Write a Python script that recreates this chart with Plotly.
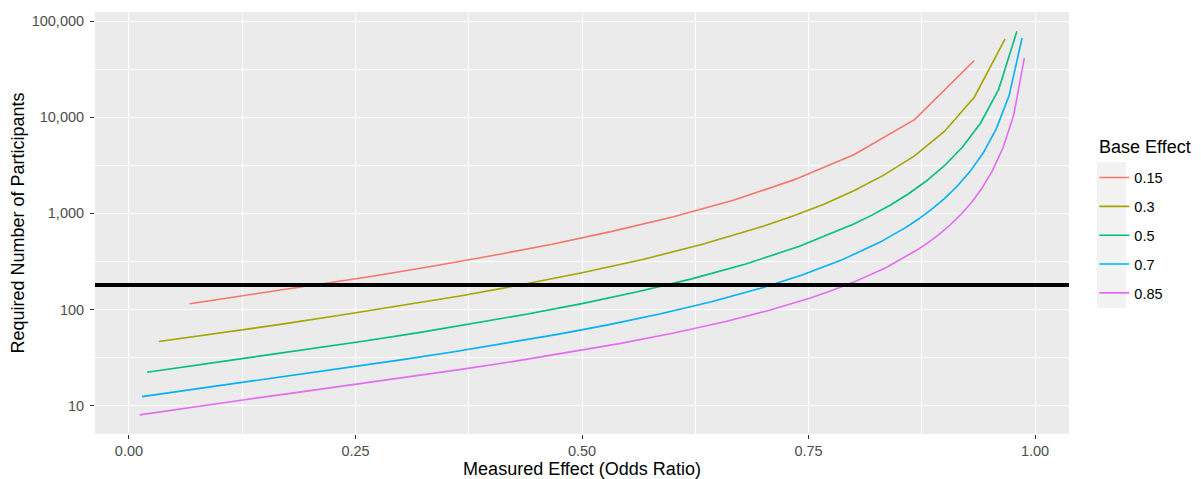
import plotly.graph_objects as go

# ---- data ----
BASE_EFFECTS = ["0.15", "0.3", "0.5", "0.7", "0.85"]
COLORS = ["#F8766D", "#A3A500", "#00BF7D", "#00B0F6", "#E76BF3"]

x_015 = [0.067, 0.133, 0.200, 0.267, 0.333, 0.400, 0.467, 0.533, 0.600, 0.667,
         0.733, 0.800, 0.867, 0.933]
y_015 = [115, 142, 176, 221, 280, 362, 478, 650, 919, 1371, 2217, 4071, 9447, 38921]

x_030 = [0.033, 0.100, 0.167, 0.233, 0.300, 0.367, 0.433, 0.500, 0.567, 0.633,
         0.700, 0.733, 0.767, 0.800, 0.833, 0.867, 0.900, 0.933, 0.967]
y_030 = [46.5, 56.9, 70.1, 87.1, 109.4, 139.4, 181.0, 240.9, 331.6, 477.6,
         734.0, 941.5, 1245.6, 1716.6, 2501.5, 3953.5, 7106, 16159, 65293]

x_050 = [0.02, 0.08, 0.14, 0.20, 0.26, 0.32, 0.38, 0.44, 0.50, 0.56, 0.62, 0.68,
         0.74, 0.80, 0.82, 0.84, 0.86, 0.88, 0.90, 0.92, 0.94, 0.96, 0.98]
y_050 = [22.3, 26.8, 32.1, 38.8, 47.1, 57.6, 71.4, 89.9, 115.3, 151.9, 207.2, 296.4,
         454.2, 774.7, 958.8, 1216.2, 1591.6, 2170.1, 3129.4, 4895.4, 8710.9, 19612, 78479]

x_070 = [0.0143, 0.0714, 0.1286, 0.1857, 0.2429, 0.3000, 0.3571, 0.4143, 0.4714,
         0.5286, 0.5857, 0.6429, 0.7000, 0.7429, 0.7857, 0.8286, 0.8571, 0.8714,
         0.8857, 0.9000, 0.9143, 0.9286, 0.9429, 0.9571, 0.9714, 0.9857]
y_070 = [12.44, 14.8, 17.6, 20.9, 25.0, 30.0, 36.2, 44.3, 54.9, 69.3, 89.8, 120.4,
         169.2, 228.2, 324.7, 500.0, 711.9, 873.5, 1098.5, 1425, 1925.9, 2752.6,
         4267.5, 7524.9, 16786, 66549]

x_085 = [0.0118, 0.0706, 0.1294, 0.1882, 0.2471, 0.3059, 0.3647, 0.4235, 0.4824,
         0.5412, 0.6000, 0.6588, 0.7059, 0.7529, 0.7765, 0.8000, 0.8353, 0.8706,
         0.8824, 0.8941, 0.9059, 0.9176, 0.9294, 0.9412, 0.9529, 0.9647, 0.9765, 0.9882]
y_085 = [8.04, 9.72, 11.63, 13.86, 16.52, 19.74, 23.72, 28.77, 35.35, 44.21, 56.68,
         75.24, 97.76, 132.9, 158.5, 192.9, 272.5, 420.5, 500.0, 606.1, 752.6, 963.7,
         1284.9, 1810.8, 2766.3, 4803.8, 10547, 41119]

THRESHOLD = 180

X_TICKS = [0.0, 0.25, 0.5, 0.75, 1.0]
X_TICK_LABELS = ["0.00", "0.25", "0.50", "0.75", "1.00"]
X_MINOR = [0.125, 0.375, 0.625, 0.875]
Y_TICKS = [10, 100, 1000, 10000, 100000]
Y_TICK_LABELS = ["10", "100", "1,000", "10,000", "100,000"]
Y_MINOR = [31.62, 316.2, 3162, 31623]

series_x = [x_015, x_030, x_050, x_070, x_085]
series_y = [y_015, y_030, y_050, y_070, y_085]

FONT = "Liberation Sans, Arial, sans-serif"

fig = go.Figure()
for name, col, xs, ys in zip(BASE_EFFECTS, COLORS, series_x, series_y):
    fig.add_trace(go.Scatter(x=xs, y=ys, mode="lines", name=name, legendgroup=name,
                             line=dict(color=col, width=1.6)))

fig.add_hline(y=THRESHOLD, line=dict(color="black", width=4), layer="above")

# grey key background for legend (ggplot style)
fig.add_shape(type="rect", xref="paper", yref="paper",
              x0=1.0287, x1=1.0585, y0=0.2986, y1=0.6445,
              fillcolor="#F2F2F2", line=dict(width=0), layer="below")

# legend title (ggplot style, placed as text)
fig.add_annotation(text="Base Effect", xref="paper", yref="paper",
                   x=1.0287, y=0.680, xanchor="left", yanchor="middle", showarrow=False,
                   font=dict(family=FONT, size=18, color="black"))

axis_common = dict(
    showline=False, zeroline=False,
    gridcolor="white", gridwidth=1.4,
    ticks="outside", ticklen=4, tickwidth=1.1, tickcolor="#333333",
    tickfont=dict(family=FONT, size=14.5, color="#4D4D4D"),
)

fig.update_xaxes(
    range=[-0.0375, 1.0375], tickmode="array", tickvals=X_TICKS, ticktext=X_TICK_LABELS,
    minor=dict(tickmode="array", tickvals=X_MINOR, showgrid=True, gridcolor="white",
               gridwidth=0.7, ticks=""),
    title=dict(text="Measured Effect (Odds Ratio)", font=dict(family=FONT, size=18, color="black"),
               standoff=4),
    **axis_common,
)
fig.update_yaxes(
    type="log", range=[0.706, 5.094], tickmode="array", tickvals=Y_TICKS, ticktext=Y_TICK_LABELS,
    minor=dict(tickmode="array", tickvals=Y_MINOR, showgrid=True, gridcolor="white",
               gridwidth=0.7, ticks=""),
    ticklabelstandoff=3,
    title=dict(text="Required Number of Participants", font=dict(family=FONT, size=18, color="black"),
               standoff=2),
    **axis_common,
)

fig.update_layout(
    width=1201, height=479,
    margin=dict(l=95, r=132, t=12, b=45, autoexpand=False),
    paper_bgcolor="white", plot_bgcolor="#EBEBEB",
    font=dict(family=FONT, color="black"),
    legend=dict(
        x=1.026, xanchor="left", y=0.6455, yanchor="top",
        font=dict(family=FONT, size=14.5, color="black"),
        tracegroupgap=7, bgcolor="rgba(0,0,0,0)",
    ),
    showlegend=True,
)

fig.write_html("out.html")
